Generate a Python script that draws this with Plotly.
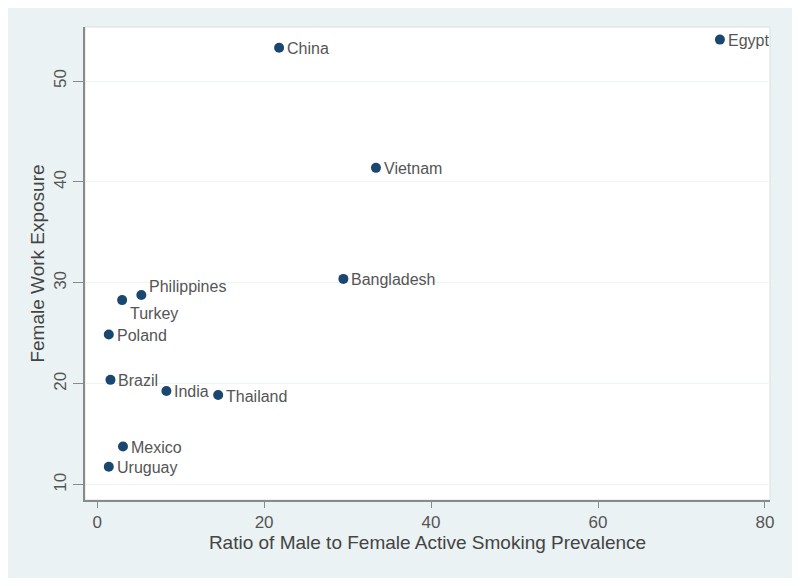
import plotly.graph_objects as go

countries = ["China", "Egypt", "Vietnam", "Bangladesh", "Philippines", "Turkey",
             "Poland", "Brazil", "India", "Thailand", "Mexico", "Uruguay"]
ratio = [21.8, 74.6, 33.4, 29.5, 5.3, 3.0, 1.4, 1.6, 8.3, 14.5, 3.1, 1.4]
exposure = [53.3, 54.1, 41.4, 30.4, 28.8, 28.3, 24.9, 20.4, 19.3, 18.9, 13.8, 11.8]

x_ticks = [0, 20, 40, 60, 80]
y_ticks = [10, 20, 30, 40, 50]

# label offsets (pixels) from each marker; most sit just to the right
label_shift = {"Philippines": (6, 9), "Turkey": (6, -13)}

# page body has an 8px margin, which leaves the thin white border round the chart
W, H = 784, 570
ml, mr, mt, mb = 77, 22, 19, 78
bg = "#EAF2F3"
grey = "#555555"

fig = go.Figure()
fig.add_trace(go.Scatter(
    x=ratio, y=exposure, mode="markers",
    marker=dict(color="#1A476F", size=10),
    cliponaxis=False, showlegend=False,
))

for name, xv, yv in zip(countries, ratio, exposure):
    dx, dy = label_shift.get(name, (6, -1))
    fig.add_annotation(x=xv, y=yv, text=name, showarrow=False,
                       xanchor="left", yanchor="middle", xshift=dx, yshift=dy,
                       font=dict(family="Liberation Sans, Arial", size=16, color=grey))

# thin frame round the plot region
fig.add_shape(type="rect", xref="paper", yref="paper", layer="below",
              x0=0, x1=1, y0=0, y1=1,
              fillcolor="white", line=dict(color="#D8E0E2", width=1))

fig.update_layout(
    width=W, height=H,
    margin=dict(l=ml, r=mr, t=mt, b=mb),
    paper_bgcolor=bg, plot_bgcolor="white",
    font=dict(family="Liberation Sans, Arial", size=17, color=grey),
    xaxis=dict(
        range=[-1.45, 80.6], tickvals=x_ticks, showgrid=False, zeroline=False,
        showline=True, linecolor="#8A8A8A", linewidth=1.5, automargin=False,
        ticks="outside", ticklen=6, tickcolor="#8A8A8A",
        title=dict(text="Ratio of Male to Female Active Smoking Prevalence",
                   font=dict(size=19, color="#444444"), standoff=2),
    ),
    yaxis=dict(
        range=[8.5, 55.35], tickvals=y_ticks, showgrid=True,
        gridcolor="#EEF3F4", gridwidth=1, zeroline=False,
        showline=True, linecolor="#8A8A8A", linewidth=1.5, automargin=False,
        ticks="outside", ticklen=10, tickcolor="#8A8A8A", tickangle=-90,
        title=dict(text="Female Work Exposure",
                   font=dict(size=19, color="#444444"), standoff=2),
    ),
)

fig.write_html("out.html")
